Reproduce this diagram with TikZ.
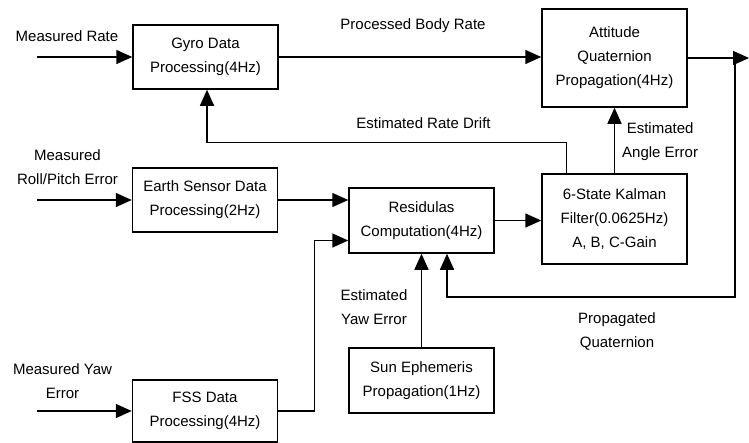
\documentclass[tikz,border=0pt]{standalone}
\usepackage{fontspec}
\setmainfont{Liberation Sans}
\usepackage{tikz}
\usetikzlibrary{positioning,calc,arrows.meta}

\begin{document}
\begin{tikzpicture}[x=1pt,y=-1pt,
    font=\fontsize{15}{24}\selectfont,
    block/.style={draw, line width=1.5pt, align=center, inner sep=2pt, minimum width=145pt},
    arr/.style={line width=1.5pt, -{Triangle[length=16pt,width=14pt]}},
    lbl/.style={align=center, inner sep=0pt}]
    \useasboundingbox (0,0) rectangle (749,442);

    % blocks
    \node[block, minimum height=64pt] (gyro) at (205.5,57) {Gyro Data\\Processing(4Hz)};
    \node[block, minimum height=64pt] (earth) at (205,200) {Earth Sensor Data\\Processing(2Hz)};
    \node[block, minimum height=62pt] (fss) at (205,411) {FSS Data\\Processing(4Hz)};
    \node[block, minimum height=65pt] (resid) at (421.5,220.5) {Residulas\\Computation(4Hz)};
    \node[block, minimum height=90pt] (kalman) at (614.5,219) {6-State Kalman\\Filter(0.0625Hz)\\A, B, C-Gain};
    \node[block, minimum height=98pt] (att) at (614.5,58) {Attitude\\Quaternion\\Propagation(4Hz)};
    \node[block, minimum height=65pt] (sun) at (421.5,380.5) {Sun Ephemeris\\Propagation(1Hz)};

    % free ends
    \coordinate (inRate) at (37,57);
    \coordinate (inRoll) at (37,200);
    \coordinate (inYaw) at (37,411);
    \coordinate (out) at (749,58);
    \coordinate (tap) at (735,58);

    % inputs
    \draw[arr] (inRate) -- (gyro.west);
    \draw[arr] (inRoll) -- (earth.west);
    \draw[arr] (inYaw) -- (fss.west);
    \node[lbl] (rateTxt) at (67,36) {Measured Rate};
    \node[lbl] (rollTxt) at (67.5,167) {Measured\\Roll/Pitch Error};
    \node[lbl] (yawTxt) at (62.5,381) {Measured Yaw\\Error};

    % forward path
    \draw[arr] (gyro.east) -- (gyro.east -| att.west);
    \node[lbl] (bodyTxt) at (413,26) {Processed Body Rate};
    \draw[arr] (att.east) -- (out);
    \draw[arr] (earth.east) -- (earth.east -| resid.west);
    \draw[arr] (fss.east) -- ++(36,0) |- ([yshift=-20pt]resid.west);
    \draw[arr] (resid.east) -- (resid.east -| kalman.west);
    \draw[arr] (sun.north) -- (resid.south);
    \node[lbl] (yawEst) at (374,307) {Estimated\\Yaw Error};

    % feedback
    \draw[arr] (kalman.north) -- (att.south);
    \node[lbl, anchor=west] (angTxt) at (622,142) {Estimated\\Angle Error};
    \draw[arr] ([xshift=-48pt]kalman.north) -- ++(0,-31) -| ([xshift=1.5pt]gyro.south);
    \node[lbl] (driftTxt) at (423.5,123) {Estimated Rate Drift};
    \draw[arr] (tap) -- ++(0,239) -| ([xshift=25.5pt]resid.south);
    \node[lbl] (quatTxt) at (617,331) {Propagated\\Quaternion};
\end{tikzpicture}
\end{document}
